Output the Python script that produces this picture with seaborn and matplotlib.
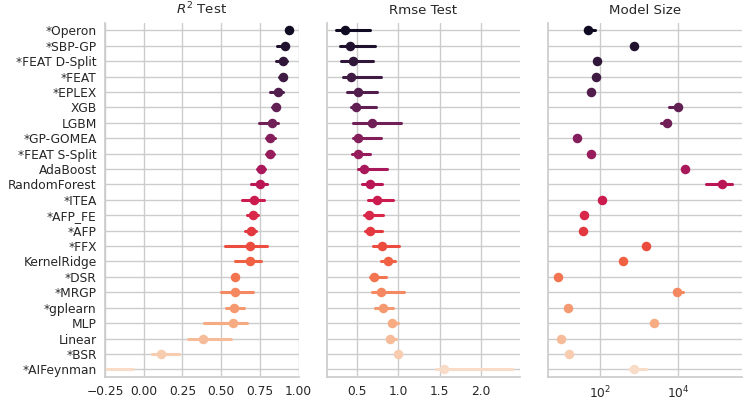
import numpy as np
import pandas as pd
import matplotlib
matplotlib.use("Agg")
import matplotlib.pyplot as plt
import seaborn as sns

algorithms = ["*Operon", "*SBP-GP", "*FEAT D-Split", "*FEAT", "*EPLEX", "XGB", "LGBM",
              "*GP-GOMEA", "*FEAT S-Split", "AdaBoost", "RandomForest", "*ITEA", "*AFP_FE",
              "*AFP", "*FFX", "KernelRidge", "*DSR", "*MRGP", "*gplearn", "MLP", "Linear",
              "*BSR", "*AIFeynman"]

r2_med = [0.935, 0.911, 0.900, 0.896, 0.868, 0.855, 0.825, 0.816, 0.816, 0.760, 0.751, 0.710,
          0.706, 0.693, 0.688, 0.684, 0.590, 0.587, 0.581, 0.577, 0.383, 0.110, -0.45]
r2_lo = [0.920, 0.860, 0.855, 0.875, 0.812, 0.830, 0.747, 0.790, 0.790, 0.730, 0.691, 0.635,
         0.667, 0.652, 0.523, 0.587, 0.570, 0.499, 0.531, 0.387, 0.288, 0.056, -0.90]
r2_hi = [0.950, 0.930, 0.924, 0.915, 0.896, 0.870, 0.868, 0.845, 0.840, 0.785, 0.793, 0.774,
         0.735, 0.725, 0.796, 0.755, 0.610, 0.706, 0.645, 0.667, 0.564, 0.228, -0.071]

rmse_med = [0.360, 0.420, 0.456, 0.432, 0.516, 0.496, 0.684, 0.512, 0.516, 0.584, 0.656, 0.740,
            0.652, 0.660, 0.800, 0.872, 0.704, 0.796, 0.816, 0.920, 0.900, 0.996, 1.552]
rmse_lo = [0.248, 0.296, 0.317, 0.332, 0.389, 0.428, 0.456, 0.456, 0.448, 0.520, 0.564, 0.640,
           0.588, 0.600, 0.700, 0.796, 0.656, 0.684, 0.716, 0.888, 0.870, 0.980, 1.456]
rmse_hi = [0.656, 0.720, 0.700, 0.790, 0.744, 0.728, 1.036, 0.790, 0.656, 0.860, 0.810, 0.940,
           0.812, 0.800, 1.012, 0.956, 0.856, 1.068, 0.932, 0.996, 0.970, 1.010, 2.370]

size_med = [49, 738, 82, 77, 58, 10000, 5250, 25.4, 59, 14800, 132800, 108, 38.3, 36.1, 1465,
            380, 8.5, 9240, 15, 2400, 9.9, 16.3, 754]
size_lo = [46, 738, 82, 77, 58, 5800, 3550, 25.4, 59, 13000, 50800, 108, 38.3, 36.1, 1465,
           380, 8.5, 8800, 15, 2400, 9.9, 16.3, 550]
size_hi = [75, 738, 82, 77, 58, 11000, 5600, 25.4, 59, 17000, 245000, 108, 38.3, 36.1, 1465,
           380, 8.5, 12900, 15, 2400, 9.9, 16.3, 1465]

titles = ["$R^2$ Test", "Rmse Test", "Model Size"]

rows = []
for i, a in enumerate(algorithms):
    for r2, rm, sz in [(r2_lo[i], rmse_lo[i], size_lo[i]),
                       (r2_med[i], rmse_med[i], size_med[i]),
                       (r2_hi[i], rmse_hi[i], size_hi[i])]:
        rows.append({"algorithm": a, "r2_test": r2, "rmse_test": rm, "model_size": sz})
df = pd.DataFrame(rows)

sns.set_theme(style="whitegrid")
plt.rcParams["font.family"] = ["DejaVu Sans"]

fig, axes = plt.subplots(1, 3, figsize=(7.48, 4.05), dpi=100, sharey=True)
fig.subplots_adjust(left=0.1404, right=0.992, top=0.944, bottom=0.069, wspace=0.145)

cols = ["r2_test", "rmse_test", "model_size"]
for ax, col, title in zip(axes, cols, titles):
    if col == "model_size":
        ax.set_xscale("log")
    sns.pointplot(data=df, x=col, y="algorithm", hue="algorithm", palette="rocket",
                  legend=False, estimator="median", errorbar=("pi", 100),
                  linestyle="none", markersize=5.2, linewidth=2.2, ax=ax, orient="h")
    ax.set_title(title, fontsize=9.6, color=".15")
    ax.set_xlabel("")
    ax.set_ylabel("")
    ax.yaxis.grid(True)
    ax.xaxis.grid(True)
    ax.set_axisbelow(True)
    ax.tick_params(axis="both", labelsize=8.8, colors=".15", length=0)
    ax.tick_params(axis="x", pad=5.6)
    ax.tick_params(axis="y", pad=6)
    for s in ["left", "bottom"]:
        ax.spines[s].set_color(".8")
        ax.spines[s].set_visible(True)
    ax.spines["top"].set_visible(False)
    ax.spines["right"].set_visible(False)

axes[0].set_xlim(-0.25, 1.0)
axes[0].set_xticks([-0.25, 0.0, 0.25, 0.5, 0.75, 1.0])
axes[1].set_xlim(0.14, 2.47)
axes[1].set_xticks([0.5, 1.0, 1.5, 2.0])
axes[2].set_xlim(4.7, 4.3e5)
axes[2].set_xticks([1e2, 1e4])
axes[2].xaxis.set_minor_locator(matplotlib.ticker.NullLocator())
axes[0].set_ylim(len(algorithms) - 0.5, -0.5)

fig.savefig("out.png", dpi=100)
